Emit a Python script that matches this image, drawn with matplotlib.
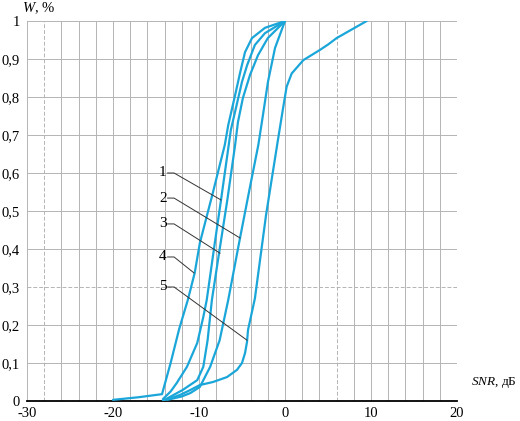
import matplotlib
matplotlib.use("Agg")
import matplotlib.pyplot as plt

plt.rcParams['font.family'] = ['Liberation Serif', 'DejaVu Serif']
plt.rcParams['mathtext.fontset'] = 'custom'
plt.rcParams['mathtext.rm'] = 'Liberation Serif'
plt.rcParams['mathtext.it'] = 'Liberation Serif:italic'

# ---- data (SNR, dB ; W) ----
snr_1 = [-14.2, -13.3, -12.6, -11.4, -10.2, -9.5, -9.1, -8.2, -7.44, -6.3, -5.0, -4.4, -3.5, -2.33, 0.0]
w_1   = [0.005, 0.025, 0.047, 0.09, 0.153, 0.221, 0.266, 0.41, 0.529, 0.713, 0.84, 0.884, 0.937, 0.968, 1.0]

snr_2 = [-13.7, -12.0, -11.0, -9.9, -8.7, -7.6, -6.6, -5.23, -4.1, -3.1, -2.56, -1.98, -1.16, 0.0]
w_2   = [0.003, 0.012, 0.021, 0.037, 0.09, 0.16, 0.266, 0.429, 0.56, 0.674, 0.753, 0.84, 0.929, 1.0]

snr_3 = [-14.0, -11.9, -10.2, -9.5, -9.0, -8.5, -7.67, -6.7, -5.8, -5.47, -4.9, -4.07, -3.14, -2.0, 0.0]
w_3   = [0.003, 0.029, 0.055, 0.09, 0.16, 0.266, 0.389, 0.53, 0.674, 0.734, 0.797, 0.858, 0.91, 0.955, 1.0]

snr_4 = [-20.0, -17.0, -14.3, -13.3, -12.3, -11.3, -10.5, -9.9, -8.4, -7.0, -6.6, -5.8, -5.2, -4.65, -3.84, -2.33, 0.0]
w_4   = [0.003, 0.01, 0.018, 0.1, 0.19, 0.266, 0.337, 0.416, 0.547, 0.674, 0.726, 0.805, 0.866, 0.918, 0.955, 0.982, 1.0]

snr_5 = [-14.2, -13.2, -12.2, -11.0, -9.9, -8.37, -6.74, -5.58, -5.0, -4.65, -4.42, -4.3, -3.5, -2.2,
         -0.8, -0.2, 0.19, 0.78, 2.13, 4.07, 5.0, 6.0, 9.5]
w_5   = [0.002, 0.008, 0.016, 0.029, 0.042, 0.05, 0.063, 0.082, 0.1, 0.126, 0.155, 0.187, 0.27, 0.49,
         0.69, 0.774, 0.827, 0.862, 0.897, 0.924, 0.938, 0.955, 1.0]

curve_labels = ["1", "2", "3", "4", "5"]
label_text_xy = [(-14.2, 0.600), (-14.2, 0.534), (-14.2, 0.466), (-14.2, 0.379), (-14.2, 0.300)]
label_tip_xy = [(-7.44, 0.529), (-5.23, 0.429), (-7.56, 0.389), (-10.58, 0.337), (-4.42, 0.160)]

x_ticks = [-30, -20, -10, 0, 10, 20]
y_ticks = [0, 0.1, 0.2, 0.3, 0.4, 0.5, 0.6, 0.7, 0.8, 0.9, 1.0]
y_tick_labels = ["0", "0,1", "0,2", "0,3", "0,4", "0,5", "0,6", "0,7", "0,8", "0,9", "1"]

# ---- figure ----
W, H = 520, 421
fig = plt.figure(figsize=(W / 100, H / 100), dpi=100)
ax = fig.add_axes([27 / W, 20 / H, 430 / W, 380 / H])
ax.set_xlim(-30, 20)
ax.set_ylim(0, 1)

grid_c = '#b4b4b4'
for gx in range(-28, 21, 2):
    dashed = gx in (-28, 6, 20)
    ax.axvline(gx, color=grid_c, lw=0.7, ls=(0, (4, 2)) if dashed else '-', zorder=1)
for gy in y_ticks[1:]:
    dashed = abs(gy - 0.3) < 1e-9
    ax.axhline(gy, color=grid_c, lw=0.7, ls=(0, (4, 2)) if dashed else '-', zorder=1)

for s in ['top', 'right']:
    ax.spines[s].set_visible(False)
ax.spines['left'].set_color(grid_c)
ax.spines['left'].set_linewidth(0.7)
ax.spines['bottom'].set_color('black')
ax.spines['bottom'].set_linewidth(1.3)

line_c = '#1ba6d9'
for xs, ys in [(snr_1, w_1), (snr_2, w_2), (snr_3, w_3), (snr_4, w_4), (snr_5, w_5)]:
    ax.plot(xs, ys, color=line_c, lw=1.6, solid_joinstyle='round', solid_capstyle='round', zorder=3)

for lab, (tx, ty), (ex, ey) in zip(curve_labels, label_text_xy, label_tip_xy):
    ax.text(tx, ty, lab, fontsize=11, ha='center', va='center', zorder=4)
    hx = tx + 1.3
    ax.plot([tx + 0.55, hx, ex], [ty, ty, ey], color='#333333', lw=0.7, zorder=4)

ax.set_xticks(x_ticks)
ax.set_xticklabels([str(v) for v in x_ticks])
ax.set_yticks(y_ticks)
ax.set_yticklabels(y_tick_labels)
ax.tick_params(length=0, labelsize=10.5, pad=4)
ax.tick_params(axis='y', pad=5)

fig.text(22 / W, 1 - 8 / H, r"$W$, %", fontsize=10.5, ha='left', va='center')
fig.text(471 / W, 1 - 383 / H, r"$SNR$, дБ", fontsize=9.5, ha='left', va='center')

fig.savefig("out.png", dpi=100)
